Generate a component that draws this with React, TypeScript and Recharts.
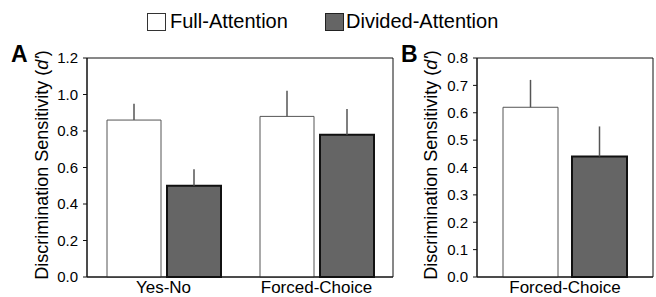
import React from "react";
import { Bar, BarChart, ErrorBar, ReferenceArea, XAxis, YAxis } from "recharts";

const categoriesA = ["Yes-No", "Forced-Choice"];
const fullA = [0.86, 0.88];
const fullErrA = [0.09, 0.14];
const dividedA = [0.5, 0.78];
const dividedErrA = [0.09, 0.14];
const ticksA = [0, 0.2, 0.4, 0.6, 0.8, 1.0, 1.2];

const categoriesB = ["Forced-Choice"];
const fullB = [0.62];
const fullErrB = [0.1];
const dividedB = [0.44];
const dividedErrB = [0.11];
const ticksB = [0, 0.1, 0.2, 0.3, 0.4, 0.5, 0.6, 0.7, 0.8];

const FONT = "'Liberation Sans', Arial, sans-serif";
const DARK = "#656565";

const rows = (cats: string[], full: number[], fe: number[], div: number[], de: number[]) =>
  cats.map((c, i) => ({
    name: c,
    full: full[i],
    fullErr: [0, fe[i]],
    divided: div[i],
    dividedErr: [0, de[i]],
  }));

const dataA = rows(categoriesA, fullA, fullErrA, dividedA, dividedErrA);
const dataB = rows(categoriesB, fullB, fullErrB, dividedB, dividedErrB);

function Panel({
  data,
  ticks,
  max,
  width,
  yWidth,
  right,
  barSize,
  barGap,
}: {
  data: any[];
  ticks: number[];
  max: number;
  width: number;
  yWidth: number;
  right: number;
  barSize: number;
  barGap: number;
}) {
  return (
    <BarChart
      width={width}
      height={297}
      data={data}
      margin={{ top: 58, right, bottom: 0, left: 0 }}
      barSize={barSize}
      barGap={barGap}
    >
      <ReferenceArea y1={0} y2={max} fill="none" stroke="#111" strokeWidth={1} ifOverflow="visible" />
      <XAxis
        dataKey="name"
        height={20}
        tickLine={false}
        axisLine={{ stroke: "#111" }}
        tick={{ fill: "#000", fontSize: 17, fontFamily: FONT, dy: -2 }}
        tickMargin={0}
        interval={0}
      />
      <YAxis
        width={yWidth}
        domain={[0, max]}
        ticks={ticks}
        interval={0}
        tickFormatter={(v: number) => v.toFixed(1)}
        tickSize={4}
        tickMargin={5}
        tickLine={{ stroke: "#111" }}
        axisLine={{ stroke: "#111" }}
        tick={{ fill: "#000", fontSize: 15, fontFamily: FONT }}
      />
      <Bar dataKey="full" fill="#fff" stroke="#555" strokeWidth={1} isAnimationActive={false}>
        <ErrorBar dataKey="fullErr" direction="y" width={0} stroke="#555" strokeWidth={1.5} />
      </Bar>
      <Bar dataKey="divided" fill={DARK} stroke="#111" strokeWidth={2} isAnimationActive={false}>
        <ErrorBar dataKey="dividedErr" direction="y" width={0} stroke="#555" strokeWidth={1.5} />
      </Bar>
    </BarChart>
  );
}

const yTitle = (x: number) => (
  <text
    transform={`translate(${x},165) rotate(-90)`}
    textAnchor="middle"
    fontSize={18}
    fontFamily={FONT}
    fill="#000"
  >
    Discrimination Sensitivity (<tspan fontStyle="italic">d'</tspan>)
  </text>
);

export default function App() {
  return (
    <div
      style={{
        position: "absolute",
        left: 0,
        top: 0,
        width: 656,
        height: 297,
        background: "#fff",
        fontFamily: FONT,
        overflow: "hidden",
      }}
    >
      <div style={{ position: "absolute", left: 0, top: 0 }}>
        <Panel data={dataA} ticks={ticksA} max={1.2} width={400} yWidth={87} right={7} barSize={54} barGap={6} />
      </div>
      <div style={{ position: "absolute", left: 400, top: 0 }}>
        <Panel data={dataB} ticks={ticksB} max={0.8} width={256} yWidth={77} right={3} barSize={55} barGap={14} />
      </div>
      <svg width={656} height={297} style={{ position: "absolute", left: 0, top: 0, pointerEvents: "none" }}>
        {yTitle(48)}
        {yTitle(437)}
        <text x={11} y={62} fontSize={23} fontWeight="bold" fontFamily={FONT} fill="#000">
          A
        </text>
        <text x={401} y={62} fontSize={23} fontWeight="bold" fontFamily={FONT} fill="#000">
          B
        </text>
      </svg>
      {/* legend */}
      <div style={{ position: "absolute", left: 147, top: 13, width: 17, height: 16, border: "1px solid #333", background: "#fff" }} />
      <div style={{ position: "absolute", left: 170, top: 9, fontSize: 20, lineHeight: "24px", color: "#000" }}>
        Full-Attention
      </div>
      <div style={{ position: "absolute", left: 325, top: 13, width: 17, height: 16, border: "1px solid #222", background: DARK }} />
      <div style={{ position: "absolute", left: 346, top: 9, fontSize: 20, lineHeight: "24px", color: "#000" }}>
        Divided-Attention
      </div>
    </div>
  );
}
